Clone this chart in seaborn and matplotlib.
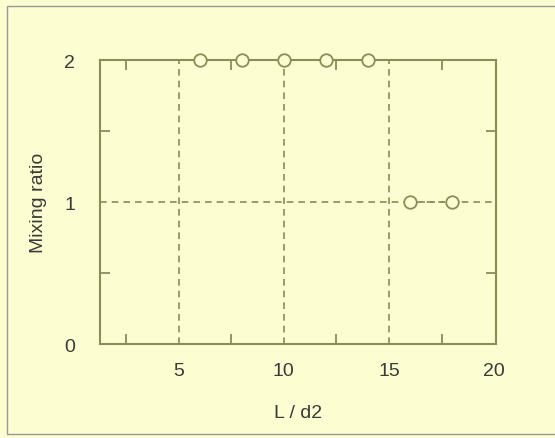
import matplotlib
matplotlib.use("Agg")
import matplotlib.pyplot as plt
import seaborn as sns
import pandas as pd
from matplotlib.patches import Rectangle

# values
l_d2 = [6, 8, 10, 12, 14, 16, 18]
mixing_ratio = [2, 2, 2, 2, 2, 1, 1]
x_ticks = [5, 10, 15, 20]
y_ticks = [0, 1, 2]

bg = "#fdfdd2"
olive = "#8c8c58"
text_col = "#3a3a3a"

sns.set_style("ticks", {"axes.facecolor": bg, "figure.facecolor": bg})
plt.rcParams['font.family'] = ['Liberation Sans', 'DejaVu Sans']

df = pd.DataFrame({"L / d2": l_d2, "Mixing ratio": mixing_ratio})

fig = plt.figure(figsize=(5.55, 4.39), dpi=100)
ax = fig.add_axes([0.180, 0.214, 0.714, 0.647])

# figure border
fig.patches.append(Rectangle((7 / 555, 4 / 439), 560 / 555, 428 / 439,
                             transform=fig.transFigure, fill=False,
                             edgecolor="#999999", linewidth=1))

# dashed grid
for xv in [5, 10, 15]:
    ax.axvline(xv, color=olive, ls=(0, (4, 3)), lw=1.2, zorder=1)
ax.axhline(1, color=olive, ls=(0, (4, 3)), lw=1.2, zorder=1)

# one line per mixing-ratio level, no joint between the two levels
for level, grp in df.groupby("Mixing ratio"):
    sns.lineplot(data=grp, x="L / d2", y="Mixing ratio", ax=ax, color=olive,
                 ls=(0, (3, 3)), lw=1.2, marker="o", markersize=9,
                 markerfacecolor=bg, markeredgecolor=olive,
                 markeredgewidth=1.3, zorder=3, clip_on=False)

ax.set_xlim(1.25, 20.1)
ax.set_ylim(0, 2)
ax.set_xticks(x_ticks)
ax.set_yticks(y_ticks)
ax.set_xticks([2.5, 7.5, 12.5, 17.5], minor=True)
ax.set_yticks([0.5, 1.5], minor=True)
ax.set_xlabel("")
ax.set_ylabel("")

for s in ax.spines.values():
    s.set_color(olive)
    s.set_linewidth(1.5)

ax.tick_params(axis="both", which="major", length=0, pad=13,
               labelsize=14, labelcolor=text_col)
ax.tick_params(axis="both", which="minor", direction="in", length=7,
               width=1.3, color=olive, top=True, right=True)
ax.tick_params(axis="y", which="major", pad=18)

ax.set_xlabel("L / d2", fontsize=14, color=text_col, labelpad=18)
ax.set_ylabel("Mixing ratio", fontsize=14, color=text_col, labelpad=12)

fig.savefig("out.png", dpi=100, facecolor=bg)
